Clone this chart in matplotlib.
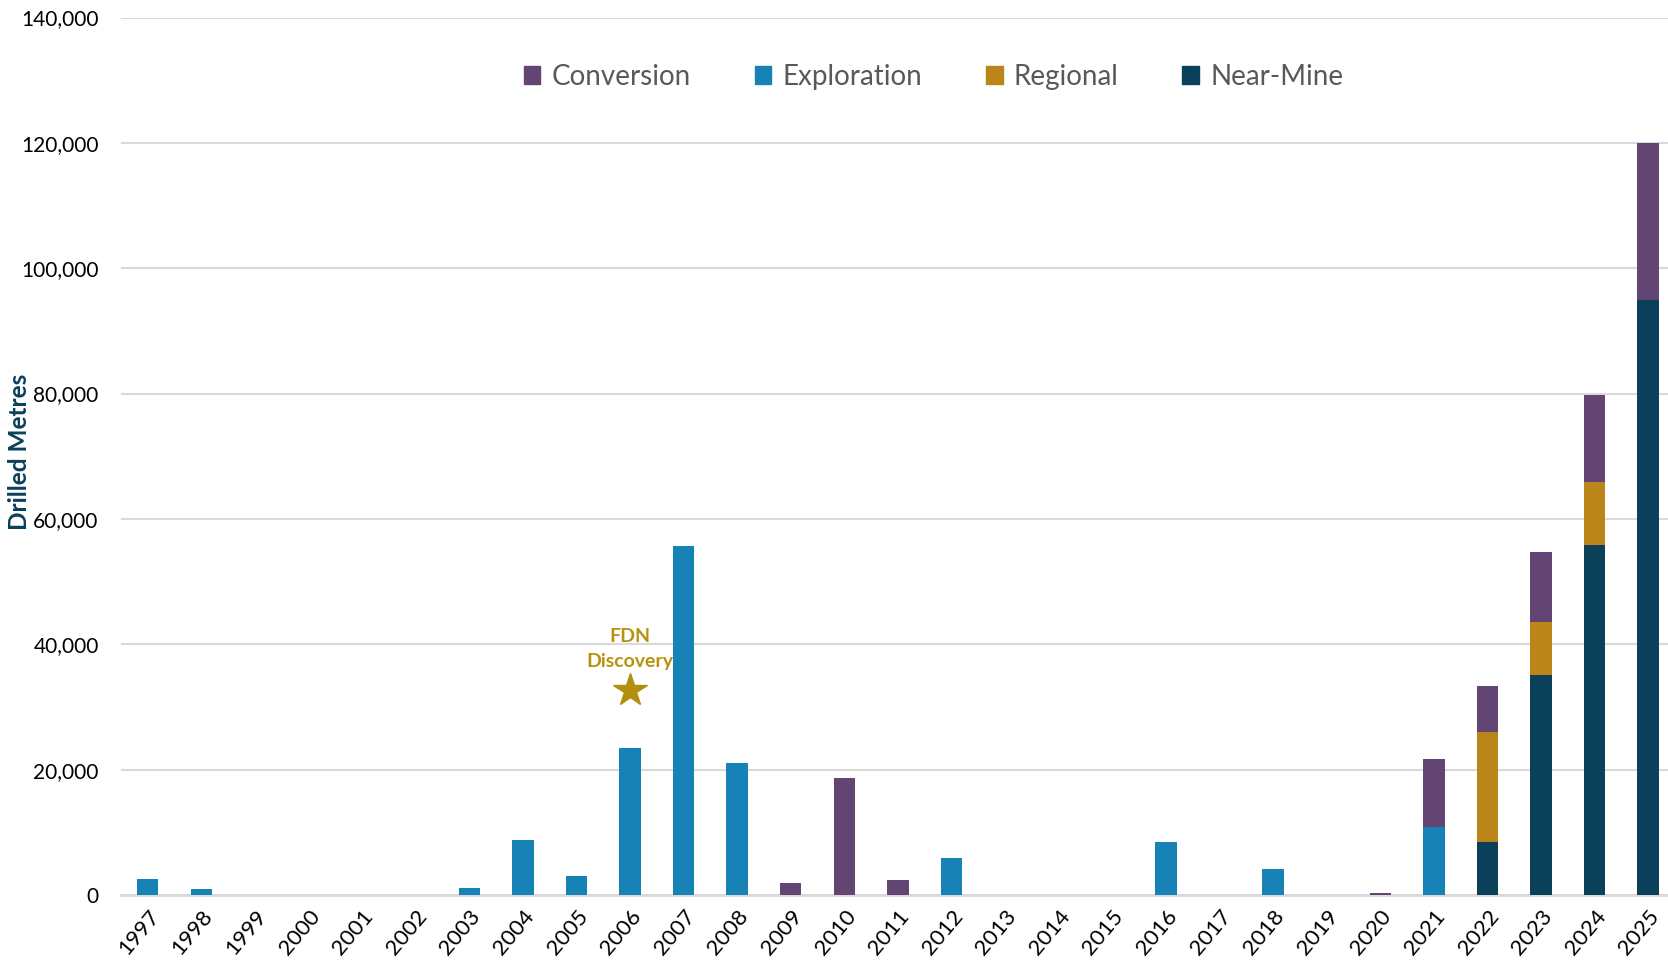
import matplotlib
matplotlib.use("Agg")
import matplotlib.pyplot as plt
from matplotlib.ticker import FuncFormatter
from matplotlib.patches import Patch
import numpy as np

years = [str(y) for y in range(1997, 2026)]
near_mine = [0]*25 + [8400, 35100, 55800, 95000]
exploration = [2500, 900, 0, 0, 0, 0, 1100, 8800, 3100, 23400, 55700, 21000,
               0, 0, 0, 5900, 0, 0, 0, 8400, 0, 4100, 0, 0, 10900, 0, 0, 0, 0]
regional = [0]*25 + [17600, 8500, 10100, 0]
conversion = [0]*12 + [1900, 18700, 2400] + [0]*5 + [0, 0, 0, 300, 10800, 7400, 11100, 13900, 25000]

colors = {"Conversion": "#634573", "Exploration": "#1682b5",
          "Regional": "#bb8519", "Near-Mine": "#0b405b"}

plt.rcParams['font.family'] = ['Lato', 'DejaVu Sans']

fig = plt.figure(figsize=(16.68, 9.64), dpi=100)
ax = fig.add_axes([0.0725, 0.0716, 0.9275, 0.9102])

x = np.arange(len(years))
w = 0.4
nm = np.array(near_mine); ex = np.array(exploration)
rg = np.array(regional); cv = np.array(conversion)
ax.bar(x, nm, w, color=colors["Near-Mine"], zorder=3, label="Near-Mine")
ax.bar(x, ex, w, bottom=nm, color=colors["Exploration"], zorder=3, label="Exploration")
ax.bar(x, rg, w, bottom=nm+ex, color=colors["Regional"], zorder=3, label="Regional")
ax.bar(x, cv, w, bottom=nm+ex+rg, color=colors["Conversion"], zorder=3, label="Conversion")

ax.set_xlim(-0.5, len(years) - 0.63)
ax.set_ylim(0, 140000)
ax.set_yticks(np.arange(0, 140001, 20000))
ax.yaxis.set_major_formatter(FuncFormatter(lambda v, p: f"{int(v):,}"))
ax.grid(axis='y', color='#d9d9d9', linewidth=1.5, zorder=0)
ax.set_axisbelow(True)
for s in ['top', 'right', 'left']:
    ax.spines[s].set_visible(False)
ax.spines['bottom'].set_color('#d9d9d9')
ax.spines['bottom'].set_linewidth(2)
ax.tick_params(axis='y', length=0, pad=16, labelsize=15, labelcolor='black')
ax.tick_params(axis='x', length=0, pad=8, labelsize=16, labelcolor='black')
ax.set_xticks(x)
ax.set_xticklabels(years, rotation=50, ha='right', va='top', rotation_mode='anchor')

fig.text(0.0118, 0.531, "Drilled Metres", rotation=90, ha='center', va='center',
         fontsize=17.5, fontweight='bold', color='#0b405b')

# annotation
ax.plot([9], [32700], marker='*', markersize=25, color='#b38f10', zorder=4, clip_on=False)
ax.text(9, 41200, "FDN", ha='center', va='center', fontsize=14,
        fontweight='bold', color='#b8920f')
ax.text(9, 37200, "Discovery", ha='center', va='center', fontsize=14,
        fontweight='bold', color='#b8920f')

handles = [Patch(color=colors[k]) for k in ["Conversion", "Exploration", "Regional", "Near-Mine"]]
fig.legend(handles, ["Conversion", "Exploration", "Regional", "Near-Mine"],
           loc='center', bbox_to_anchor=(933.5/1668, 1 - 77/964), ncol=4,
           frameon=False, fontsize=20, labelcolor='#595959',
           handlelength=0.6, handleheight=0.6, handletextpad=0.4, columnspacing=2.3)

fig.savefig("out.png", dpi=100)
